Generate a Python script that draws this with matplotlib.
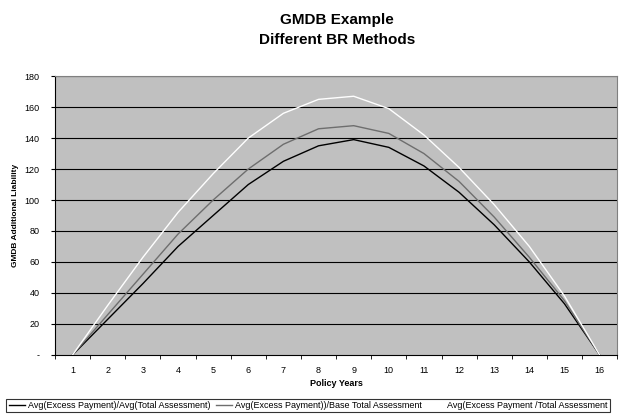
import matplotlib
matplotlib.use("Agg")
import matplotlib.pyplot as plt

# policy years and the three BR method series
years = list(range(1, 17))
avg_avg = [0, 23, 46, 70, 90, 110, 125, 135, 139, 134, 122, 105, 84, 60, 33, 0]
avg_base = [0, 26, 52, 78, 100, 120, 136, 146, 148, 143, 130, 112, 89, 63, 35, 0]
avg_ratio = [0, 32, 63, 92, 117, 140, 156, 165, 167, 159, 142, 121, 97, 70, 38, 0]

labels = ["Avg(Excess Payment)/Avg(Total Assessment)",
          "Avg(Excess Payment))/Base Total Assessment",
          "Avg(Excess Payment /Total Assessment"]
yticks = [0, 20, 40, 60, 80, 100, 120, 140, 160, 180]
ytick_labels = ["-"] + [str(v) for v in yticks[1:]]

plt.rcParams['font.family'] = ['Liberation Sans', 'DejaVu Sans']

fig = plt.figure(figsize=(6.19, 4.16), dpi=100)
ax = fig.add_axes([0.089, 0.147, 0.908, 0.670])
ax.set_facecolor('#C0C0C0')

for v in yticks[1:]:
    ax.axhline(v, color='black', lw=0.8, zorder=1)

l1, = ax.plot(years, avg_avg, color='black', lw=1.0, zorder=3)
l2, = ax.plot(years, avg_base, color='#6e6e6e', lw=1.0, zorder=3)
l3, = ax.plot(years, avg_ratio, color='white', lw=1.0, zorder=3)

ax.set_xlim(0.5, 16.5)
ax.set_ylim(0, 180)
ax.set_xticks(years)
ax.set_xticklabels([str(y) for y in years], fontsize=6.5)
ax.set_xticks([y + 0.5 for y in range(0, 17)], minor=True)
ax.tick_params(axis='x', which='major', length=0, pad=8)
ax.tick_params(axis='x', which='minor', length=3, direction='out', color='black')
ax.set_yticks(yticks)
ax.set_yticklabels(ytick_labels, fontsize=6.5)
ax.tick_params(axis='y', length=3, direction='out', pad=8)

for s in ['top', 'right']:
    ax.spines[s].set_color('#808080')
for s in ['left', 'bottom']:
    ax.spines[s].set_color('black')

ax.set_xlabel("Policy Years", fontsize=6.5, fontweight='bold', labelpad=3)
ax.set_ylabel("GMDB Additional Liability", fontsize=6, fontweight='bold', labelpad=4)

fig.text(0.545, 0.928, "GMDB Example\nDifferent BR Methods", ha='center', va='center',
         fontsize=11, fontweight='bold', linespacing=1.6)

leg = fig.legend([l1, l2, l3], labels, loc='lower left', bbox_to_anchor=(0.003, -0.002),
                 ncol=3, fontsize=6.5, frameon=True, fancybox=False, edgecolor='black',
                 handlelength=1.8, handletextpad=0.35, columnspacing=0.6,
                 borderpad=0.25, facecolor='white')
leg.get_frame().set_linewidth(0.8)

fig.savefig("out.png", dpi=100)
